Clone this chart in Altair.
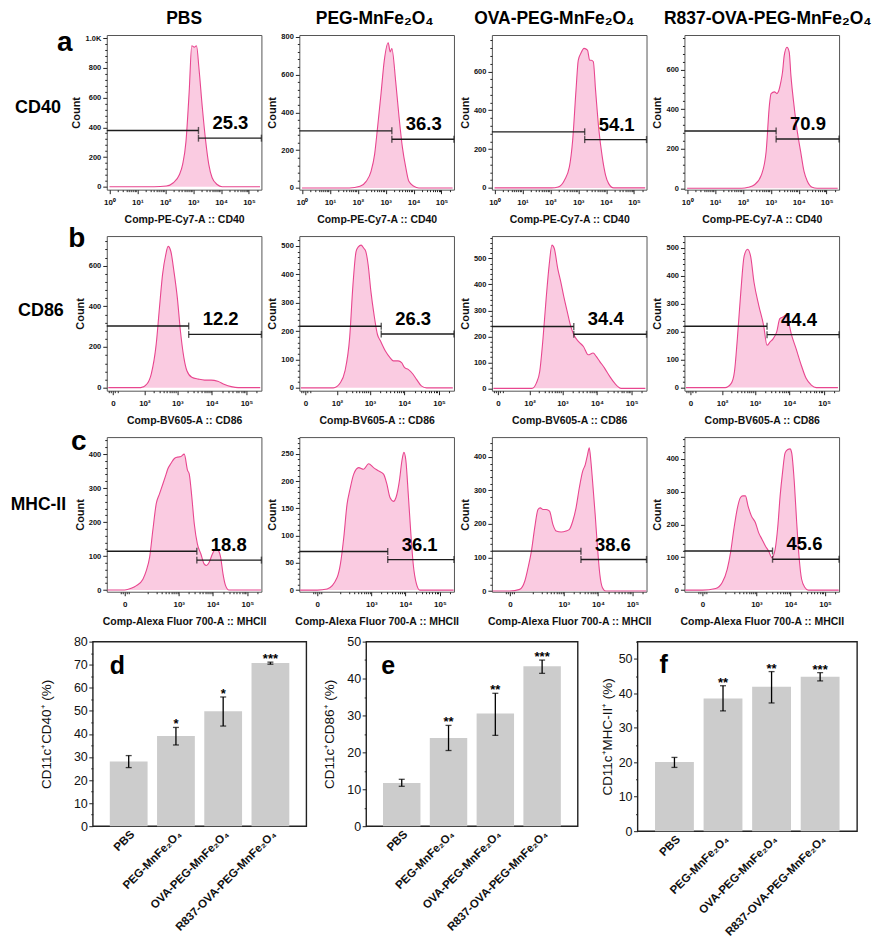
import altair as alt
import pandas as pd

FONT = "Liberation Sans"
GROUPS = ["PBS", "PEG-MnFe₂O₄", "OVA-PEG-MnFe₂O₄", "R837-OVA-PEG-MnFe₂O₄"]

# ---------------- Row a : CD40 (Comp-PE-Cy7-A) ----------------
A_PBS_X = [1, 40, 110, 190, 320, 420, 550, 720, 890, 1100, 1320, 1620, 2140, 2820, 3630, 4790, 7240, 11000, 250000]
A_PBS_Y = [0, 0, 5, 25, 80, 150, 300, 640, 950, 940, 950, 795, 530, 305, 150, 60, 15, 0, 0]
A_PEG_X = [1, 50, 120, 200, 300, 400, 510, 680, 890, 1230, 1450, 1660, 2290, 3020, 3980, 5250, 6760, 10200, 15500, 250000]
A_PEG_Y = [0, 0, 9, 35, 89, 178, 320, 500, 675, 768, 720, 738, 560, 373, 213, 107, 35, 9, 0, 0]
A_OVA_X = [1, 110, 190, 320, 480, 630, 830, 1000, 1230, 1620, 2140, 2570, 2950, 3470, 4170, 5500, 7240, 9550, 12300, 18600, 250000]
A_OVA_Y = [0, 0, 5, 40, 108, 246, 504, 658, 693, 719, 710, 658, 658, 650, 504, 297, 160, 65, 22, 0, 0]
A_R837_X = [1, 90, 155, 260, 460, 680, 890, 1020, 1350, 1660, 1860, 2290, 2630, 3020, 3800, 4570, 5250, 6760, 8910, 11700, 15500, 20400, 30200, 45700, 250000]
A_R837_Y = [0, 0, 5, 18, 68, 186, 420, 478, 487, 478, 487, 537, 587, 670, 712, 687, 570, 420, 286, 186, 85, 35, 5, 0, 0]
A_GATE_SPLIT = [1550, 1660, 1700, 1550]
A_GATE_LEFT = [379, 302, 289, 289]
A_GATE_RIGHT = [327, 258, 249, 249]
A_PCT = ["25.3", "36.3", "54.1", "70.9"]

# ---------------- Row b : CD86 (Comp-BV605-A) ----------------
B_PBS_X = [-5, 75, 120, 165, 235, 295, 365, 455, 535, 645, 795, 1000, 1230, 1550, 1900, 2630, 4070, 6170, 9550, 14800, 23400, 36300, 57500, 250000]
B_PBS_Y = [0, 0, 18, 67, 214, 393, 556, 654, 695, 670, 572, 442, 279, 148, 83, 51, 42, 37, 37, 31, 15, 5, 0, 0]
B_PEG_X = [-5, 75, 130, 180, 250, 315, 390, 455, 550, 660, 760, 890, 1070, 1320, 1660, 2040, 2820, 3890, 4790, 6610, 8320, 10200, 12900, 17800, 22400, 30900, 43700, 250000]
B_PEG_Y = [0, 0, 19, 60, 176, 363, 480, 497, 503, 492, 480, 433, 340, 258, 188, 165, 130, 106, 95, 95, 89, 71, 65, 48, 30, 7, 0, 0]
B_OVA_X = [-5, 120, 165, 210, 265, 330, 405, 490, 575, 725, 890, 1120, 1380, 1700, 2140, 2950, 4070, 5620, 7760, 9550, 12000, 16600, 23400, 32400, 50100, 250000]
B_OVA_Y = [0, 0, 20, 65, 193, 347, 474, 551, 538, 462, 411, 347, 295, 244, 206, 180, 161, 129, 136, 123, 104, 78, 46, 20, 0, 0]
B_R837_X = [-5, 125, 195, 245, 300, 380, 480, 605, 740, 935, 1290, 1780, 2240, 2750, 3390, 4270, 5250, 6460, 7760, 8910, 11200, 15500, 21900, 30200, 42700, 58900, 250000]
B_R837_Y = [0, 0, 15, 57, 175, 340, 470, 494, 470, 376, 293, 222, 151, 163, 175, 199, 246, 252, 258, 246, 193, 139, 80, 33, 9, 0, 0]
B_GATE_SPLIT = [2140, 2140, 2140, 2240]
B_GATE_LEFT = [303, 217, 238, 219]
B_GATE_RIGHT = [262, 190, 208, 189]
B_PCT = ["12.2", "26.3", "34.4", "44.4"]

# ---------------- Row c : MHC-II (Comp-Alexa Fluor 700-A) ----------------
C_PBS_X = [-60, 0, 15, 33, 66, 90, 119, 154, 201, 256, 328, 415, 466, 588, 740, 927, 1163, 1457, 1822, 2036, 2436, 2870, 3550, 4480, 5570, 6500, 7760, 9690, 12100, 14480, 16830, 19740, 23400, 29200, 250000]
C_PBS_Y = [0, 0, 5, 13, 32, 57, 96, 175, 254, 283, 312, 341, 356, 373, 387, 391, 393, 400, 352, 342, 273, 195, 135, 106, 77, 72, 81, 106, 121, 116, 96, 47, 13, 0, 0]
C_PEG_X = [-60, 0, 26, 77, 103, 136, 176, 216, 290, 415, 588, 830, 1163, 1643, 2300, 2870, 3550, 4480, 5320, 6690, 7920, 9040, 10300, 12100, 14200, 16830, 20970, 26150, 250000]
C_PEG_Y = [0, 0, 2, 23, 48, 97, 158, 183, 213, 225, 222, 232, 225, 219, 213, 195, 170, 163, 170, 201, 238, 253, 238, 176, 109, 48, 11, 0, 0]
C_OVA_X = [-60, 0, 26, 48, 66, 90, 119, 155, 185, 227, 289, 368, 466, 588, 830, 1164, 1461, 1828, 2290, 2860, 3570, 4270, 4980, 5570, 6220, 6950, 8290, 9690, 11300, 13500, 16850, 250000]
C_OVA_Y = [0, 0, 5, 30, 69, 119, 189, 243, 248, 243, 243, 238, 199, 179, 176, 179, 184, 208, 248, 308, 357, 377, 407, 427, 387, 328, 228, 129, 50, 10, 0, 0]
C_R837_X = [-60, 0, 40, 77, 119, 155, 200, 256, 327, 386, 466, 561, 707, 930, 1164, 1461, 1828, 2290, 2860, 3570, 4270, 4980, 5830, 6950, 8290, 9690, 10800, 12900, 15100, 17600, 21000, 26200, 32700, 250000]
C_R837_Y = [0, 0, 5, 23, 64, 114, 185, 246, 282, 287, 287, 256, 226, 206, 175, 155, 135, 119, 99, 125, 195, 287, 357, 418, 428, 430, 418, 327, 206, 104, 33, 8, 0, 0]
C_GATE_SPLIT = [3410, 3050, 3190, 2990]
C_GATE_LEFT = [114, 71, 119, 119]
C_GATE_RIGHT = [88, 56, 94, 94]
C_PCT = ["18.8", "36.1", "38.6", "45.6"]

# ---------------- Bar charts d, e, f ----------------
D_MEAN = [28.0, 39.1, 49.8, 70.7]
D_LO = [25.4, 35.2, 43.4, 70.2]
D_HI = [30.6, 42.8, 56.0, 71.1]
D_STARS = ["", "*", "*", "***"]
E_MEAN = [11.7, 23.9, 30.5, 43.3]
E_LO = [10.8, 20.5, 24.6, 41.4]
E_HI = [12.7, 27.3, 36.0, 45.0]
E_STARS = ["", "**", "**", "***"]
F_MEAN = [20.1, 38.5, 41.9, 44.8]
F_LO = [18.5, 34.9, 37.2, 43.6]
F_HI = [21.4, 42.2, 46.3, 46.0]
F_STARS = ["", "**", "**", "***"]

PINK = "#f8b5d4"
MAGENTA = "#e8468f"
GATE = "#1c1c1c"
BAR = "#cccccc"

HIST_W = 155
HIST_H = 155


def value_expr(values, labels):
    expr = "''"
    for v, s in zip(reversed(values), reversed(labels)):
        expr = f"datum.value == {v} ? '{s}' : ({expr})"
    return expr


ROW_CFG = {
    "a": dict(scale=dict(type="log", domain=[0.8, 280000], nice=False), lo=0.8, hi=280000,
              major=[1, 10, 100, 1000, 10000, 100000],
              labels=["10⁰", "10¹", "10²", "10³", "10⁴", "10⁵"],
              minor=[k * 10 ** e for e in range(0, 5) for k in range(2, 10)] + [200000],
              title="Comp-PE-Cy7-A :: CD40"),
    "b": dict(scale=dict(type="symlog", constant=14, domain=[-7, 270000], nice=False), lo=-7, hi=270000,
              major=[0, 100, 1000, 10000, 100000],
              labels=["0", "10²", "10³", "10⁴", "10⁵"],
              minor=[-5, -2, 2, 5] + [k * 10 ** e for e in (2, 3, 4) for k in range(2, 10)] + [200000],
              title="Comp-BV605-A :: CD86"),
    "c": dict(scale=dict(type="symlog", constant=28, domain=[-65, 256000], nice=False), lo=-65, hi=256000,
              major=[0, 1000, 10000, 100000],
              labels=["0", "10³", "10⁴", "10⁵"],
              minor=[-8, -4, 4, 8] + [k * 100 for k in range(1, 10)]
              + [k * 10 ** e for e in (3, 4) for k in range(2, 10)] + [200000],
              title="Comp-Alexa Fluor 700-A :: MHCII"),
}


def text_layer(t, x, y, size, align="center", baseline="alphabetic", weight="bold"):
    return alt.Chart(pd.DataFrame({"t": [t]})).mark_text(
        fontSize=size, fontWeight=weight, align=align, baseline=baseline, color="#000"
    ).encode(x=alt.value(x), y=alt.value(y), text="t:N")


def anchor_layer(x, y):
    # invisible mark used only to fix the layout bounds of a panel
    return alt.Chart(pd.DataFrame({"a": [0]})).mark_rule(opacity=0, strokeWidth=0.2).encode(
        x=alt.value(x), y=alt.value(y), y2=alt.value(y + 0.5)
    )


def spacer():
    return alt.Chart(pd.DataFrame({"a": [0]})).mark_rule(opacity=0, strokeWidth=0.2).encode(
        x=alt.value(0.5), y=alt.value(0), y2=alt.value(0.5)
    ).properties(width=1, height=1, view=alt.ViewBackground(strokeOpacity=0))


def hist_panel(row, xs, ys, ydom, ystep, split, gl, gr, pct, extras=()):
    cfg = ROW_CFG[row]
    xscale = alt.Scale(**cfg["scale"])
    yscale = alt.Scale(domain=ydom, nice=False, zero=False)
    ytop = int(ydom[1])
    ymajor = list(range(0, ytop + 1, ystep))
    mstep = max(ystep // 5, 1)
    yminor = [v for v in range(mstep, ytop + 1, mstep) if v % ystep]

    x_major = alt.Axis(values=cfg["major"], labelExpr=value_expr(cfg["major"], cfg["labels"]),
                       title=cfg["title"], tickSize=4, labelFontSize=8, labelFontWeight="bold",
                       labelPadding=5, titleFontSize=10.5, titleFontWeight="bold", titlePadding=8,
                       domain=False, grid=False, labelFlush=False, labelOverlap=False)
    y_major = alt.Axis(values=ymajor, labelExpr="datum.value == 1000 ? '1.0K' : datum.label",
                       title="Count", tickSize=4, labelFontSize=7.5, labelFontWeight="bold",
                       labelPadding=2, titleFontSize=11, titleFontWeight="bold", titlePadding=3,
                       domain=False, grid=False, labelFlush=False)
    x_minor = alt.Axis(values=cfg["minor"], labels=False, tickSize=2, title=None, domain=False,
                       grid=False, orient="bottom")
    y_minor = alt.Axis(values=yminor, labels=False, tickSize=2, title=None, domain=False,
                       grid=False, orient="left")

    df = pd.DataFrame({"x": xs, "c": ys})
    area = alt.Chart(df).mark_area(
        color=PINK, interpolate="monotone", clip=True,
        line={"color": MAGENTA, "strokeWidth": 1.1},
    ).encode(
        x=alt.X("x:Q", scale=xscale, axis=x_major),
        y=alt.Y("c:Q", scale=yscale, axis=y_major),
        y2=alt.datum(0),
    )
    minor = alt.Chart(df).mark_point(opacity=0, size=1).encode(
        x=alt.X("x:Q", scale=xscale, axis=x_minor),
        y=alt.Y("c:Q", scale=yscale, axis=y_minor),
    )
    gdf = pd.DataFrame({"x1": [cfg["lo"], split], "x2": [split, cfg["hi"]], "y": [gl, gr]})
    gates = alt.Chart(gdf).mark_rule(color=GATE, strokeWidth=1.4).encode(
        x=alt.X("x1:Q", axis=None), x2="x2:Q", y=alt.Y("y:Q", axis=None)
    )
    cdf = pd.DataFrame({"x": [split, split, cfg["hi"]], "y": [gl, gr, gr]})
    caps = alt.Chart(cdf).mark_tick(orient="vertical", size=7, thickness=1.4, color=GATE).encode(
        x=alt.X("x:Q", axis=None), y=alt.Y("y:Q", axis=None)
    )
    ldf = pd.DataFrame({"x": [split], "y": [gr], "t": [pct]})
    label = alt.Chart(ldf).mark_text(
        align="left", baseline="alphabetic", dx=14, dy=-9, fontSize=18.5, fontWeight="bold", color="#000"
    ).encode(x=alt.X("x:Q", axis=None), y=alt.Y("y:Q", axis=None), text="t:N")

    return alt.layer(area, minor, gates, caps, label, *extras).resolve_axis(
        x="independent", y="independent"
    ).properties(width=HIST_W, height=HIST_H)


def bar_panel(mean, lo, hi, stars, ytitle, ytop, width, height, letter, tpad, lx, ly, extras=()):
    df = pd.DataFrame({"g": GROUPS, "m": mean, "lo": lo, "hi": hi, "s": stars})
    xscale = alt.Scale(domain=GROUPS, paddingInner=0.2, paddingOuter=0.36)
    yscale = alt.Scale(domain=[0, ytop], nice=False)
    x_ax = alt.Axis(title=None, labelAngle=-45, labelAlign="right", labelBaseline="top", ticks=False,
                    domain=False, labelFontSize=11.5, labelFontWeight="bold", labelPadding=2,
                    labelColor="#111")
    top10 = int(ytop) // 10 * 10
    y_major = alt.Axis(values=list(range(0, top10 + 1, 10)), title=ytitle, tickSize=4,
                       labelFontSize=12.5, labelPadding=1.5, titleFontSize=13.5,
                       titleFontWeight="normal", titlePadding=tpad, domain=False, grid=False,
                       labelFlush=False, labelColor="#111", titleColor="#111")
    y_minor = alt.Axis(values=list(range(5, int(ytop) + 1, 10)), labels=False, tickSize=2,
                       title=None, domain=False, grid=False, orient="left")
    bars = alt.Chart(df).mark_bar(color=BAR).encode(
        x=alt.X("g:N", scale=xscale, axis=x_ax, sort=GROUPS),
        y=alt.Y("m:Q", scale=yscale, axis=y_major),
    )
    minor = alt.Chart(df).mark_point(opacity=0, size=1).encode(
        x=alt.X("g:N", axis=None, sort=GROUPS), y=alt.Y("m:Q", axis=y_minor)
    )
    err = alt.Chart(df).mark_rule(color="#000", strokeWidth=1.3).encode(
        x=alt.X("g:N", axis=None, sort=GROUPS), y=alt.Y("lo:Q", axis=None), y2="hi:Q"
    )
    cap_lo = alt.Chart(df).mark_tick(orient="horizontal", size=6, thickness=1.3, color="#000").encode(
        x=alt.X("g:N", axis=None, sort=GROUPS), y=alt.Y("lo:Q", axis=None)
    )
    cap_hi = alt.Chart(df).mark_tick(orient="horizontal", size=6, thickness=1.3, color="#000").encode(
        x=alt.X("g:N", axis=None, sort=GROUPS), y=alt.Y("hi:Q", axis=None)
    )
    star = alt.Chart(df).mark_text(baseline="alphabetic", dy=1, fontSize=13, fontWeight="bold",
                                   color="#000").encode(
        x=alt.X("g:N", axis=None, sort=GROUPS), y=alt.Y("hi:Q", axis=None), text="s:N"
    )
    let = text_layer(letter, lx, ly, 25, align="left")
    return alt.layer(bars, minor, err, cap_lo, cap_hi, star, let, *extras).resolve_axis(
        x="independent", y="independent"
    ).properties(width=width, height=height,
                 view=alt.ViewBackground(stroke="#222", strokeWidth=1.4))


TITLE_DX = [0, -2, -15, 6]


def col_title(i):
    return text_layer(GROUPS[i], HIST_W / 2 + TITLE_DX[i], -11, 17.5)


panels = [
    hist_panel("a", A_PBS_X, A_PBS_Y, [-20, 1022], 200, A_GATE_SPLIT[0], A_GATE_LEFT[0], A_GATE_RIGHT[0],
               A_PCT[0],
               extras=[col_title(0), text_layer("a", -42, 16, 28),
                       text_layer("CD40", -69, 73, 18, baseline="middle")]),
    hist_panel("a", A_PEG_X, A_PEG_Y, [-9, 809], 200, A_GATE_SPLIT[1], A_GATE_LEFT[1], A_GATE_RIGHT[1],
               A_PCT[1], extras=[col_title(1)]),
    hist_panel("a", A_OVA_X, A_OVA_Y, [-9, 788], 200, A_GATE_SPLIT[2], A_GATE_LEFT[2], A_GATE_RIGHT[2],
               A_PCT[2], extras=[col_title(2)]),
    hist_panel("a", A_R837_X, A_R837_Y, [-7, 774], 200, A_GATE_SPLIT[3], A_GATE_LEFT[3], A_GATE_RIGHT[3],
               A_PCT[3], extras=[col_title(3)]),
    hist_panel("b", B_PBS_X, B_PBS_Y, [-15, 746], 200, B_GATE_SPLIT[0], B_GATE_LEFT[0], B_GATE_RIGHT[0],
               B_PCT[0],
               extras=[text_layer("b", -30, 11, 28), text_layer("CD86", -66, 75, 18, baseline="middle")]),
    hist_panel("b", B_PEG_X, B_PEG_Y, [-10, 535], 100, B_GATE_SPLIT[1], B_GATE_LEFT[1], B_GATE_RIGHT[1],
               B_PCT[1]),
    hist_panel("b", B_OVA_X, B_OVA_Y, [-9, 586], 100, B_GATE_SPLIT[2], B_GATE_LEFT[2], B_GATE_RIGHT[2],
               B_PCT[2]),
    hist_panel("b", B_R837_X, B_R837_Y, [-11, 541], 100, B_GATE_SPLIT[3], B_GATE_LEFT[3], B_GATE_RIGHT[3],
               B_PCT[3]),
    hist_panel("c", C_PBS_X, C_PBS_Y, [-5, 450], 100, C_GATE_SPLIT[0], C_GATE_LEFT[0], C_GATE_RIGHT[0],
               C_PCT[0],
               extras=[text_layer("c", -28, 13, 28), text_layer("MHC-II", -68.5, 68, 17.5, baseline="middle"),
                       anchor_layer(-97, HIST_H + 36)]),
    hist_panel("c", C_PEG_X, C_PEG_Y, [-3, 281], 50, C_GATE_SPLIT[1], C_GATE_LEFT[1], C_GATE_RIGHT[1],
               C_PCT[1]),
    hist_panel("c", C_OVA_X, C_OVA_Y, [-2, 459], 100, C_GATE_SPLIT[2], C_GATE_LEFT[2], C_GATE_RIGHT[2],
               C_PCT[2]),
    hist_panel("c", C_R837_X, C_R837_Y, [-5, 466], 100, C_GATE_SPLIT[3], C_GATE_LEFT[3], C_GATE_RIGHT[3],
               C_PCT[3]),
]

hist_grid = alt.concat(*panels, columns=4, spacing={"row": 46.5, "column": 38}, bounds="flush")

bar_row = alt.hconcat(
    bar_panel(D_MEAN, D_LO, D_HI, D_STARS, "CD11c⁺CD40⁺ (%)", 80, 214, 185, "d", 20, 17, 32,
              extras=[anchor_layer(-83, -9)]),
    bar_panel(E_MEAN, E_LO, E_HI, E_STARS, "CD11c⁺CD86⁺ (%)", 50, 212, 185, "e", 10, 15, 32),
    bar_panel(F_MEAN, F_LO, F_HI, F_STARS, "CD11c⁺MHC-II⁺ (%)", 55, 220, 190, "f", 4, 22, 31),
    spacing=60, bounds="flush",
)

hist_block = alt.hconcat(spacer(), hist_grid, spacing=0)
bar_block = alt.hconcat(spacer(), bar_row, spacing=0)

chart = alt.vconcat(hist_block, bar_block, spacing=3).properties(
    padding=0
).configure(font=FONT).configure_view(stroke="#555555", strokeWidth=1).configure_axis(
    grid=False, labelFont=FONT, titleFont=FONT, tickColor="#222", labelColor="#111", titleColor="#111"
)

chart.save("out.html", embed_options={"renderer": "svg", "actions": False})
